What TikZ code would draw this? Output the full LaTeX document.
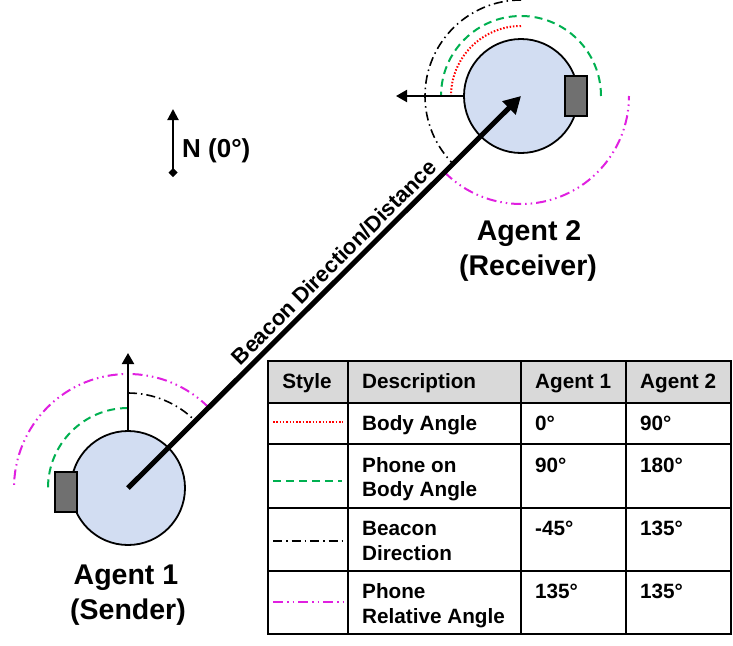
\documentclass[tikz,border=0pt]{standalone}
\usepackage{fontspec}
\setmainfont{Liberation Sans}
\usetikzlibrary{arrows.meta}
\definecolor{bodyblue}{HTML}{D2DDF2}
\definecolor{phonegray}{HTML}{707070}
\definecolor{hdrgray}{HTML}{D9D9D9}
\definecolor{dgreen}{HTML}{00B050}
\definecolor{mag}{HTML}{E020E0}
\tikzset{
  agent/.style={circle, draw, line width=1.8pt, fill=bodyblue, minimum size=114pt, inner sep=0pt},
  phone/.style={draw, line width=2pt, fill=phonegray, minimum width=22pt, minimum height=40pt, inner sep=0pt},
  bodyarc/.style={red, line width=2pt, dash pattern=on 1.5pt off 1.8pt},
  phonearc/.style={dgreen, line width=2pt, dash pattern=on 8pt off 5pt},
  beaconarc/.style={black, line width=1.6pt, dash pattern=on 9pt off 4pt on 1.5pt off 4pt},
  relarc/.style={mag, line width=2pt, dash pattern=on 10pt off 4pt on 1.5pt off 4pt on 1.5pt off 4pt},
  headarrow/.style={line width=2pt, -{Triangle[length=11pt,width=12pt]}},
  beaconline/.style={line width=5pt, -{Triangle[length=17pt,width=18pt]}},
  lbl/.style={font=\bfseries\fontsize{28.5}{34}\selectfont, anchor=base, inner sep=0pt},
  tab/.style={font=\bfseries\fontsize{20.7}{24}\selectfont, anchor=base west, inner sep=0pt},
  tabc/.style={font=\bfseries\fontsize{20.7}{24}\selectfont, anchor=base, inner sep=0pt},
  grid/.style={line width=2.2pt},
}
\begin{document}
\begin{tikzpicture}[x=1pt,y=1pt]
\useasboundingbox (0,0) rectangle (733,-645);
% centres
\coordinate (c1) at (128,-488);
\coordinate (c2) at (521,-96);
% arcs agent 2
\draw[bodyarc] ([shift={(90:70)}]c2) arc[start angle=90, end angle=180, radius=70];
\draw[phonearc] ([shift={(0:80)}]c2) arc[start angle=0, end angle=180, radius=80];
\draw[beaconarc] ([shift={(90:96)}]c2) arc[start angle=90, end angle=225, radius=96];
\draw[relarc] ([shift={(225:108)}]c2) arc[start angle=225, end angle=360, radius=108];
% arcs agent 1
\draw[phonearc] ([shift={(90:80)}]c1) arc[start angle=90, end angle=180, radius=80];
\draw[beaconarc] ([shift={(90:95)}]c1) arc[start angle=90, end angle=45, radius=95];
\draw[relarc] ([shift={(45:114)}]c1) arc[start angle=45, end angle=180, radius=114];
% agents
\node[agent] (a1) at (c1) {};
\node[agent] (a2) at (c2) {};
\node[phone] (p1) at (65.5,-492) {};
\node[phone] (p2) at (576,-96) {};
% heading arrows
\coordinate (h1) at (128,-353);
\coordinate (h2) at (396,-96);
\draw[headarrow] (a1.north) -- (h1);
\draw[headarrow] (a2.west) -- (h2);
% beacon
\draw[beaconline] (c1) -- (c2);
\path (c1) -- (c2) node[pos=0.55, sloped, above=6pt, inner sep=0pt, font=\bfseries\fontsize{22}{26}\selectfont] (bt) {Beacon Direction/Distance};
% north
\coordinate (n0) at (173,-177);
\coordinate (n1) at (173,-109);
\draw[line width=2pt, {Diamond[length=9pt,width=9pt]}-{Triangle[length=11pt,width=11pt]}] (n0) -- (n1);
\node[font=\bfseries\fontsize{26}{30}\selectfont, anchor=base west, inner sep=0pt] (nl) at (182,-157) {N (0°)};
% agent labels
\node[lbl] (l2a) at (529,-240) {Agent 2};
\node[lbl] (l2b) at (528,-275) {(Receiver)};
\node[lbl] (l1a) at (126,-584) {Agent 1};
\node[lbl] (l1b) at (128,-619) {(Sender)};
% table
\fill[hdrgray] (268,-361) rectangle (731,-403);
\draw[grid] (268,-403) -- (731,-403);
\draw[grid] (268,-444) -- (731,-444);
\draw[grid] (268,-508) -- (731,-508);
\draw[grid] (268,-571) -- (731,-571);
\draw[grid] (348,-361) -- (348,-634);
\draw[grid] (521,-361) -- (521,-634);
\draw[grid] (626,-361) -- (626,-634);
\draw[grid] (268,-361) rectangle (731,-634);
% header
\node[tabc] (hs) at (307,-388) {Style};
\node[tab] (hd) at (362,-388) {Description};
\node[tab] (h1) at (535,-388) {Agent 1};
\node[tab] (h2t) at (640,-388) {Agent 2};
% rows
\draw[bodyarc] (273,-422) -- (343,-422);
\node[tab] (r1d) at (362,-430) {Body Angle};
\node[tab] (r1a) at (535,-430) {0°};
\node[tab] (r1b) at (640,-430) {90°};
\draw[phonearc] (273,-481) -- (342,-481);
\node[tab] (r2d) at (362,-472) {Phone on};
\node[tab] (r2e) at (362,-496) {Body Angle};
\node[tab] (r2a) at (535,-472) {90°};
\node[tab] (r2b) at (640,-472) {180°};
\draw[beaconarc] (273,-541) -- (343,-541);
\node[tab] (r3d) at (362,-535) {Beacon};
\node[tab] (r3e) at (362,-560) {Direction};
\node[tab] (r3a) at (535,-535) {-45°};
\node[tab] (r3b) at (640,-535) {135°};
\draw[relarc] (273,-602) -- (343,-602);
\node[tab] (r4d) at (362,-598) {Phone};
\node[tab] (r4e) at (362,-623) {Relative Angle};
\node[tab] (r4a) at (535,-598) {135°};
\node[tab] (r4b) at (640,-598) {135°};
\end{tikzpicture}
\end{document}
